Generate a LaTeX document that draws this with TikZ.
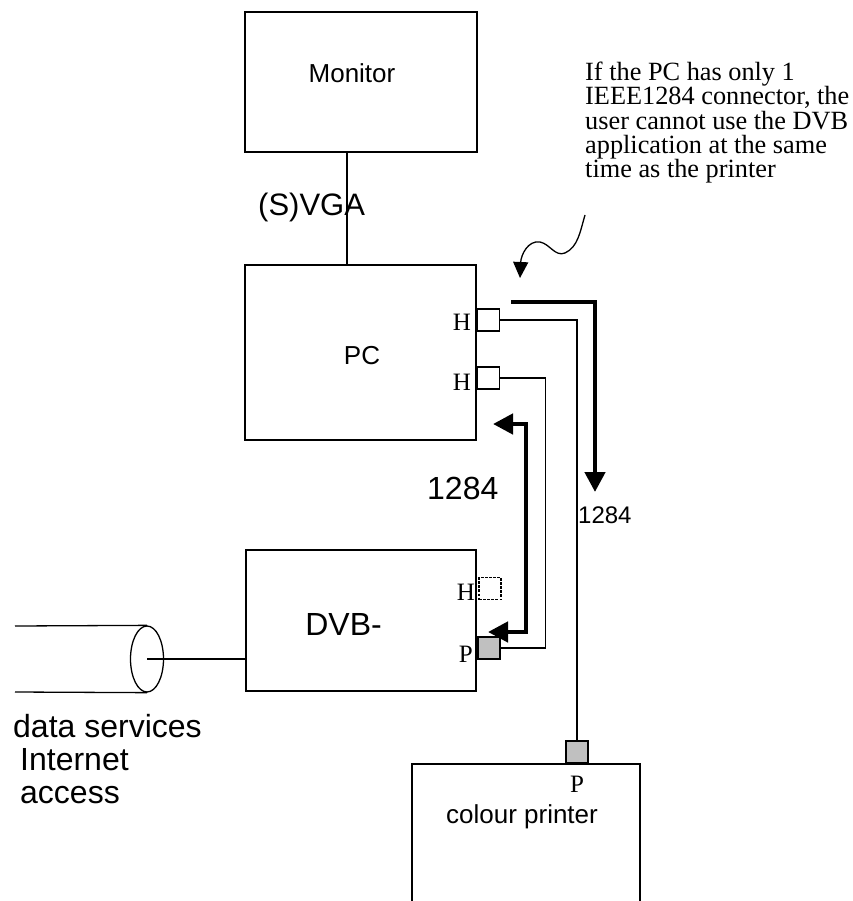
\documentclass[tikz,border=0pt]{standalone}
\usepackage{fontspec}
\setmainfont{Liberation Serif}
\setsansfont{Liberation Sans}
\usetikzlibrary{arrows.meta,shapes.geometric}
\begin{document}
\begin{tikzpicture}[x=1pt,y=-1pt,
  boxnode/.style={draw,line width=2pt,inner sep=0pt},
  sq/.style={draw,line width=1.8pt,minimum size=22pt,inner sep=0pt},
  greysq/.style={sq,fill=silver},
  dotsq/.style={sq,dash pattern=on 2.5pt off 1.6pt},
  wire/.style={line width=1.3pt},
  thickarrow/.style={line width=4.5pt,-{Triangle[width=20pt,length=20pt]}},
  dblarrow/.style={line width=4.5pt,{Triangle[width=20pt,length=20pt]}-{Triangle[width=20pt,length=20pt]}},
  squig/.style={line width=1.3pt,-{Triangle[width=15pt,length=16pt]}},
  sansA/.style={font=\sffamily\fontsize{26}{26}\selectfont,inner sep=0pt},
  sansB/.style={font=\sffamily\fontsize{32}{32}\selectfont,inner sep=0pt},
  sansC/.style={font=\sffamily\fontsize{24}{24}\selectfont,inner sep=0pt},
  serifA/.style={font=\rmfamily\fontsize{25}{25}\selectfont,inner sep=0pt},
]
\definecolor{silver}{RGB}{192,192,192}
\useasboundingbox (0,0) rectangle (852,901);

% boxes
\node[boxnode,minimum width=232pt,minimum height=140pt] (monitor) at (361,82) {};
\node[boxnode,minimum width=231pt,minimum height=175pt] (pc) at (360.5,352.5) {};
\node[boxnode,minimum width=230pt,minimum height=141pt] (dvb) at (361,620.5) {};
\coordinate (prBL) at (412,901);
\coordinate (prTL) at (412,764);
\coordinate (prTR) at (640,764);
\coordinate (prBR) at (640,901);
\draw[line width=2pt] (prBL) -- (prTL) -- (prTR) -- (prBR);

% texts in boxes
\node[sansA,anchor=base] (tmon) at (352,83) {Monitor};
\node[sansA,anchor=base] (tpc) at (362,364) {PC};
\node[sansB,anchor=base east] (tdvb) at (382,635) {DVB-};
\node[sansA,anchor=base] (tpr) at (522,823) {colour printer};

% connectors squares
\node[sq] (h1) at (488.5,320) {};
\node[sq] (h2) at (488.5,378) {};
\node[dotsq] (dh) at (490,588.5) {};
\node[greysq] (dp) at (489,648) {};
\node[greysq] (pp) at (577,752) {};

\node[serifA,anchor=base east] (lh1) at (471,330) {H};
\node[serifA,anchor=base east] (lh2) at (471,390) {H};
\node[serifA,anchor=base east] (ldh) at (475,600) {H};
\node[serifA,anchor=base east] (ldp) at (473,662) {P};
\node[serifA,anchor=base] (lpp) at (577,792) {P};

% monitor - pc
\coordinate (vx) at (347,0);
\draw[wire] (monitor.south -| vx) -- (pc.north -| vx);
\node[anchor=base west,inner sep=0pt,font=\sffamily\fontsize{31}{31}\selectfont] (svga) at (258,216) {(S)VGA};

% wires
\draw[wire] (h1.east) -| (pp.north);
\draw[wire] (h2.east) -- ++(45,0) |- (dp.east);

% thick arrows
\coordinate (a1s) at (511,302);
\coordinate (a1c) at (595,302);
\coordinate (a1e) at (595,492);
\draw[thickarrow] (a1s) -- (a1c) -- (a1e);
\coordinate (a2s) at (493,424);
\coordinate (a2c1) at (526,424);
\coordinate (a2c2) at (526,632);
\coordinate (a2e) at (488,632);
\draw[dblarrow] (a2s) -- (a2c1) -- (a2c2) -- (a2e);

\node[sansB,anchor=base west] (l1284a) at (427,499) {1284};
\node[sansC,anchor=base west] (l1284b) at (578,523) {1284};

% cable
\node[draw,ellipse,line width=1.3pt,minimum width=33pt,minimum height=66pt,inner sep=0pt] (cab) at (147,659) {};
\coordinate (cabT) at (15,626);
\coordinate (cabB) at (15,692);
\draw[wire] (cabT) -- (cab.north);
\draw[wire] (cabB) -- (cab.south);
\draw[wire] (cab.center) -- (cab.center -| dvb.west);

\node[sansB,anchor=base west] (tds) at (13,737) {data services};
\node[sansB,anchor=base west] (tin) at (20,770) {Internet};
\node[sansB,anchor=base west] (tac) at (20,803) {access};

% note
\node[anchor=north west,align=left,inner sep=0pt,font=\rmfamily\fontsize{26.3}{24.2}\selectfont] (note) at (585,62)
  {If the PC has only 1\\IEEE1284 connector, the\\user cannot use the DVB\\application at the same\\time as the printer};
\coordinate (sqs) at (585,215);
\coordinate (sqe) at (520,278);
\draw[squig] (sqs) .. controls (580,232) and (578,247) .. (565,253)
  .. controls (555,257) and (550,244) .. (540,242)
  .. controls (528,240) and (521,255) .. (sqe);
\end{tikzpicture}
\end{document}
